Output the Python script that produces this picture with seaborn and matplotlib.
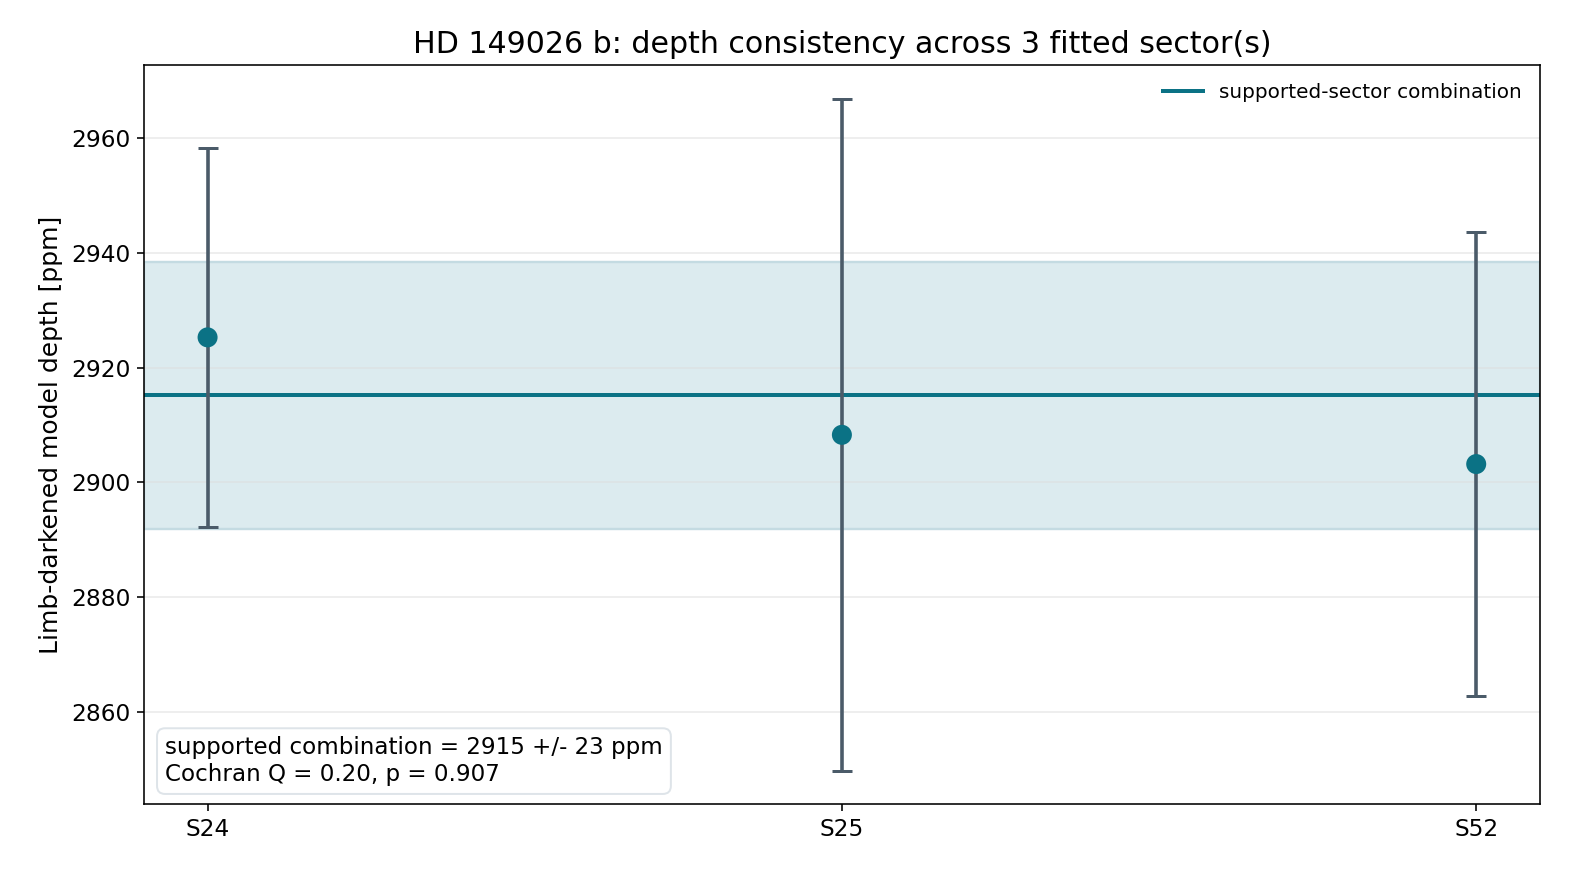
import matplotlib
matplotlib.use("Agg")
import matplotlib.pyplot as plt
import seaborn as sns
import pandas as pd

# sector fits
sectors = ["S24", "S25", "S52"]
depth_ppm = [2925.3, 2908.3, 2903.2]
depth_err = [33.0, 58.6, 40.5]

# supported-sector combination
combo_depth = 2915.2
combo_err = 23.3
cochran_q = 0.20
cochran_p = 0.907

point_color = "#0b7285"
err_color = "#4b5b69"
band_color = "#dcebef"

df = pd.DataFrame({"sector": sectors, "depth": depth_ppm, "err": depth_err})

fig, ax = plt.subplots(figsize=(11, 6.125), dpi=144)
fig.subplots_adjust(left=0.091, right=0.972, top=0.926, bottom=0.088)

ax.axhspan(combo_depth - combo_err, combo_depth + combo_err,
           facecolor=band_color, edgecolor="#c4dbe2", linewidth=1.2, zorder=0)
ax.grid(axis="y", color="#dddddd", alpha=0.6, linewidth=0.8, zorder=1)
ax.set_axisbelow(True)

pos = list(range(len(sectors)))
ax.errorbar(pos, df["depth"], yerr=df["err"], fmt="none", ecolor=err_color,
            elinewidth=1.8, capsize=5, capthick=1.5, zorder=3)
ax.axhline(combo_depth, color=point_color, linewidth=2.0, zorder=2,
           label="supported-sector combination")
sns.scatterplot(data=df, x="sector", y="depth", color=point_color, s=100,
                edgecolor="none", zorder=4, ax=ax)

ax.set_xlabel("")
ax.set_ylabel("Limb-darkened model depth [ppm]", fontsize=12.5)
ax.set_title("HD 149026 b: depth consistency across 3 fitted sector(s)", fontsize=15)
ax.tick_params(labelsize=11.6)
ax.legend(loc="upper right", frameon=False, fontsize=10)

ax.text(0.015, 0.025,
        f"supported combination = {combo_depth:.0f} +/- {combo_err:.0f} ppm\n"
        f"Cochran Q = {cochran_q:.2f}, p = {cochran_p:.3f}",
        transform=ax.transAxes, ha="left", va="bottom", fontsize=11.5,
        bbox=dict(boxstyle="round,pad=0.35", facecolor="white",
                  edgecolor="#dde3e8", alpha=0.95))

fig.savefig("out.png", dpi=144)
